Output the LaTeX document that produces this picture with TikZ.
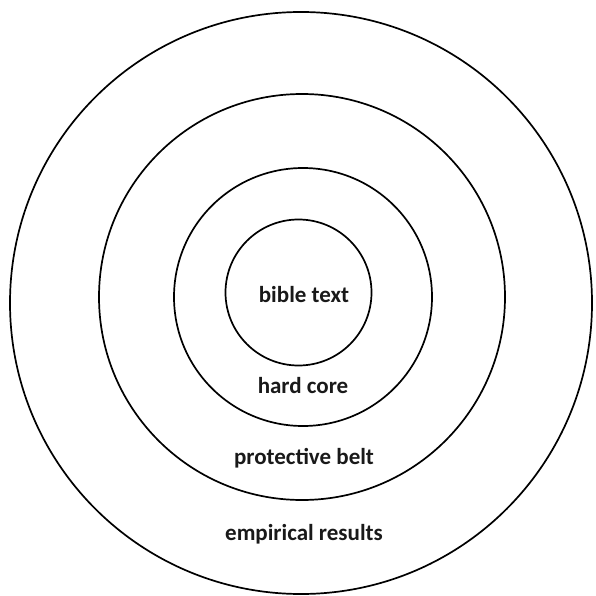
\documentclass[tikz,border=0pt]{standalone}
\usepackage{fontspec}
\setmainfont{Carlito}
\begin{document}
\begin{tikzpicture}[x=1pt,y=-1pt,
  ring/.style={draw=black,line width=1.7pt},
  lbl/.style={font=\fontsize{23}{27}\selectfont\bfseries,text=black!90,inner sep=0pt}]
\useasboundingbox (0,0) rectangle (595,596);
\draw[ring] (301,303) circle (291);
\draw[ring] (302,297) circle (203);
\draw[ring] (303,297) circle (129);
\draw[ring] (298.5,292.5) circle (73);
\node[lbl] (bible) at (304,295) {bible text};
\node[lbl] (hard) at (303,386) {hard core};
\node[lbl] (belt) at (304,458) {protective belt};
\node[lbl] (emp) at (304,534) {empirical results};
\end{tikzpicture}
\end{document}
